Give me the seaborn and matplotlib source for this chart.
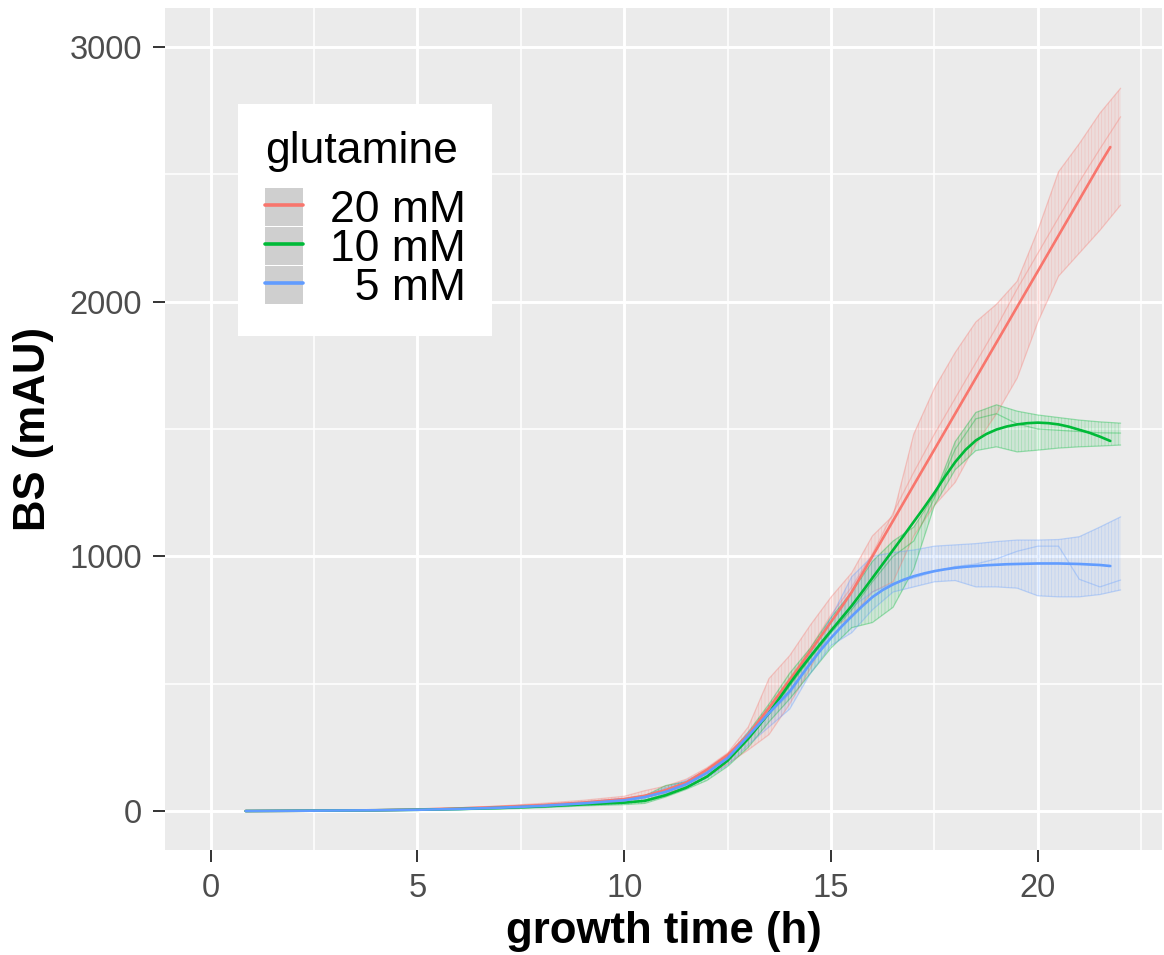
import matplotlib
matplotlib.use('Agg')
import matplotlib.pyplot as plt
from matplotlib.lines import Line2D
from matplotlib.patches import Patch
from matplotlib.legend_handler import HandlerTuple
from matplotlib.ticker import MultipleLocator
import seaborn as sns
import pandas as pd

# replicate envelopes (min / middle / max), sampled from the figure
time = [0.85, 2, 3, 4, 5, 6, 7, 8, 9, 10, 10.5, 11, 11.5, 12, 12.5, 13, 13.5, 14, 14.5, 15,
        15.5, 16, 16.5, 17, 17.5, 18, 18.5, 19, 19.5, 20, 20.5, 21, 21.5, 22]

red_lo = [0, 1, 1, 2, 4, 7, 12, 19, 28, 40, 52, 72, 95, 135, 185, 240, 300, 420, 560, 720,
          760, 860, 900, 1080, 1200, 1290, 1440, 1560, 1700, 1920, 2100, 2190, 2280, 2379]
red_mid = [0, 1, 2, 3, 6, 10, 16, 24, 35, 48, 62, 85, 112, 155, 215, 300, 410, 520, 640, 770,
           880, 1010, 1170, 1330, 1480, 1620, 1760, 1900, 2050, 2190, 2330, 2470, 2600, 2726]
red_hi = [1, 2, 3, 5, 8, 13, 20, 30, 42, 58, 80, 98, 125, 170, 228, 330, 520, 610, 730, 840,
          935, 1080, 1160, 1480, 1660, 1800, 1920, 1990, 2080, 2280, 2510, 2620, 2740, 2838]

green_lo = [0, 0, 1, 2, 3, 5, 8, 13, 20, 25, 30, 55, 85, 120, 175, 250, 350, 440, 540, 640,
            720, 740, 800, 950, 1200, 1340, 1415, 1430, 1410, 1417, 1425, 1430, 1433, 1437]
green_mid = [0, 1, 2, 3, 5, 8, 12, 18, 26, 33, 42, 65, 92, 135, 195, 280, 380, 490, 600, 700,
             790, 900, 1000, 1060, 1230, 1420, 1540, 1560, 1520, 1500, 1495, 1490, 1485, 1484]
green_hi = [1, 1, 2, 4, 6, 9, 14, 21, 30, 40, 60, 100, 115, 150, 215, 310, 420, 541, 640, 760,
            860, 980, 1060, 1115, 1240, 1450, 1565, 1595, 1570, 1555, 1545, 1535, 1528, 1523]

blue_lo = [0, 0, 1, 2, 3, 6, 10, 16, 24, 30, 40, 65, 90, 130, 180, 260, 330, 400, 540, 650,
           700, 790, 860, 880, 900, 905, 880, 880, 875, 845, 841, 841, 850, 868]
blue_mid = [0, 1, 2, 3, 5, 8, 13, 20, 30, 42, 52, 75, 105, 148, 205, 290, 380, 460, 580, 700,
            800, 860, 895, 915, 940, 960, 970, 990, 1020, 1040, 1040, 910, 880, 907]
blue_hi = [1, 2, 3, 4, 7, 10, 16, 24, 35, 50, 60, 92, 120, 160, 215, 310, 400, 500, 620, 760,
           920, 1000, 1015, 1025, 1040, 1045, 1050, 1058, 1064, 1064, 1066, 1077, 1115, 1155]

# smoothed curves
fit_time = [0.85, 2, 3, 4, 5, 6, 7, 8, 9, 10, 10.5, 11, 11.5, 12, 12.5, 13, 13.5,
            14, 14.25, 14.5, 14.75, 15, 15.25, 15.5, 15.75, 16, 16.25, 16.5, 16.75,
            17, 17.25, 17.5, 17.75, 18, 18.25, 18.5, 18.75, 19, 19.25, 19.5, 19.75,
            20, 20.25, 20.5, 20.75, 21, 21.25, 21.5, 21.75]
red_fit = [0, 1, 2, 3, 6, 10, 16, 23, 33, 47, 60, 82, 112, 162, 220, 300, 405,
           515, 570, 628, 685, 743, 800, 860, 930, 1000, 1070, 1140, 1210,
           1280, 1350, 1420, 1490, 1560, 1630, 1700, 1770, 1840, 1910, 1980, 2050,
           2120, 2190, 2260, 2330, 2400, 2470, 2540, 2607]
green_fit = [0, 1, 2, 3, 5, 8, 12, 18, 26, 33, 40, 62, 92, 135, 198, 285, 385,
             500, 555, 607, 658, 708, 757, 806, 860, 915, 970, 1025, 1080,
             1136, 1192, 1250, 1312, 1370, 1418, 1455, 1480, 1498, 1510, 1518, 1523,
             1525, 1523, 1518, 1509, 1497, 1485, 1470, 1453]
blue_fit = [0, 1, 2, 3, 5, 8, 13, 20, 30, 42, 55, 75, 105, 150, 208, 295, 385,
            470, 525, 580, 632, 680, 724, 765, 804, 840, 868, 890, 908,
            922, 933, 942, 949, 955, 959, 962, 965, 967, 969, 970, 971,
            972, 972, 972, 971, 970, 968, 966, 962]

levels = ['20 mM', '10 mM', '5 mM']
legend_labels = ['20 mM', '10 mM', '  5 mM']
colors = ['#F8766D', '#00BA38', '#619CFF']

sns.set_theme(style='darkgrid')
plt.rcParams['font.family'] = ['Liberation Sans', 'DejaVu Sans']
plt.rcParams['hatch.linewidth'] = 0.5

bands = {'20 mM': (red_lo, red_mid, red_hi),
         '10 mM': (green_lo, green_mid, green_hi),
         '5 mM': (blue_lo, blue_mid, blue_hi)}
fits = {'20 mM': red_fit, '10 mM': green_fit, '5 mM': blue_fit}

rep_df = pd.concat([pd.DataFrame({'time': time, 'BS': vals, 'glutamine': lvl, 'rep': k})
                    for lvl in levels for k, vals in enumerate(bands[lvl])])
fit_df = pd.concat([pd.DataFrame({'time': fit_time, 'BS': fits[lvl], 'glutamine': lvl})
                    for lvl in levels])

fig = plt.figure(figsize=(11.64, 9.55), dpi=100)
ax = fig.add_axes([165 / 1164, 1 - 850 / 955, 997 / 1164, 842 / 955])
ax.set_facecolor('#EBEBEB')

for lvl, col in zip(levels, colors):
    lo, mid, hi = bands[lvl]
    ax.fill_between(time, lo, hi, facecolor=matplotlib.colors.to_rgba(col, 0.12),
                    edgecolor=matplotlib.colors.to_rgba(col, 0.22), hatch='|||||',
                    linewidth=0, zorder=2)

sns.lineplot(data=rep_df, x='time', y='BS', hue='glutamine', units='rep', estimator=None,
             hue_order=levels, palette=colors, linewidth=0.9, alpha=0.35, legend=False,
             sort=False, ax=ax, zorder=3)
sns.lineplot(data=fit_df, x='time', y='BS', hue='glutamine', hue_order=levels,
             palette=colors, linewidth=1.9, legend=False, sort=False, ax=ax, zorder=4)

ax.set_xlim(-1.1, 23.0)
ax.set_ylim(-153, 3153)
ax.xaxis.set_major_locator(MultipleLocator(5))
ax.xaxis.set_minor_locator(MultipleLocator(2.5))
ax.yaxis.set_major_locator(MultipleLocator(1000))
ax.yaxis.set_minor_locator(MultipleLocator(500))
ax.grid(which='major', color='white', linewidth=2.1)
ax.grid(which='minor', color='white', linewidth=1.1)
ax.set_axisbelow(True)
for s in ax.spines.values():
    s.set_visible(False)

ax.tick_params(which='major', length=8.5, width=1.4, color='#333333', labelcolor='#4D4D4D',
               labelsize=23.5, pad=8)
ax.tick_params(which='minor', length=0)
ax.tick_params(axis='x', which='major', bottom=True)
ax.tick_params(axis='y', which='major', left=True)

ax.set_xlabel('growth time (h)', fontsize=31.5, fontweight='bold', color='black', labelpad=5)
ax.set_ylabel('BS (mAU)', fontsize=31.5, fontweight='bold', color='black', labelpad=11)

handles = [(Patch(facecolor='#CFCFCF', edgecolor='none'), Line2D([], [], color=c, linewidth=2.6))
           for c in colors]
leg = ax.legend(handles, legend_labels, title='glutamine',
                handler_map={tuple: HandlerTuple(ndivide=1, pad=0)},
                loc='upper left', bbox_to_anchor=(0.0732, 0.886), borderaxespad=0,
                fontsize=32, title_fontsize=32, alignment='left', labelcolor='black',
                handlelength=0.86, handleheight=0.93, handletextpad=0.6,
                labelspacing=-0.1, borderpad=0.6, frameon=True, fancybox=False,
                facecolor='white', edgecolor='none', framealpha=1)
leg.get_title().set_color('black')
leg._legend_box.sep = 12

fig.savefig('out.png', dpi=100)
